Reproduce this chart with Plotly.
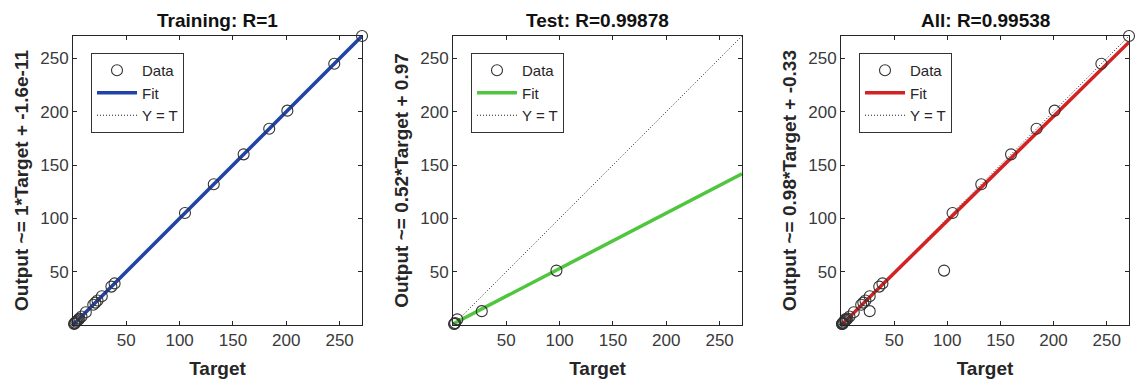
import plotly.graph_objects as go

# ---------------- data ----------------
train_target = [1, 1.5, 2, 3, 4, 5, 6, 8, 12, 19, 21, 23, 27, 36, 39, 105, 132, 160, 184, 201, 245, 271]
train_output = [1, 1.5, 2, 3, 4, 5, 6, 8, 12, 19, 21, 23, 27, 36, 39, 105, 132, 160, 184, 201, 245, 271]

test_target = [1, 1.5, 2, 4, 27, 97]
test_output = [1, 1.2, 1.8, 5.3, 13, 51]

all_target = train_target + test_target
all_output = train_output + test_output

panel_titles = ["Training: R=1", "Test: R=0.99878", "All: R=0.99538"]
ylabels = ["Output ~= 1*Target + -1.6e-11",
           "Output ~= 0.52*Target + 0.97",
           "Output ~= 0.98*Target + -0.33"]
fit_slope = [1.0, 0.52, 0.98]
fit_intercept = [-1.6e-11, 0.97, -0.33]
fit_colors = ["#2142a6", "#4fc63e", "#d42222"]
axis_range = [0, 271]
tick_vals = [50, 100, 150, 200, 250]

datasets = [(train_target, train_output), (test_target, test_output), (all_target, all_output)]

# ---------------- layout geometry ----------------
ML, MR, MT, MB = 73, 8, 36, 58
W, H = 1137, 383
plot_w = W - ML - MR
panel_px = [(73, 362), (453, 742), (841, 1129)]
legend_left_px = [91, 471, 859]

FONT = "Liberation Sans, Arial, Helvetica, sans-serif"

fig = go.Figure()
layout_update = {}
annotations = []

for i in range(3):
    xa = "x" if i == 0 else f"x{i+1}"
    ya = "y" if i == 0 else f"y{i+1}"
    leg = "legend" if i == 0 else f"legend{i+1}"
    t, o = datasets[i]
    lo, hi = axis_range
    # Y = T
    fig.add_trace(go.Scatter(x=[lo, hi], y=[lo, hi], mode="lines", name="Y = T",
                             line=dict(color="#222222", width=1, dash="1px,2px"),
                             xaxis=xa, yaxis=ya, legend=leg, legendrank=3))
    # Fit
    fx = [lo, hi]
    fy = [fit_slope[i] * v + fit_intercept[i] for v in fx]
    fig.add_trace(go.Scatter(x=fx, y=fy, mode="lines", name="Fit",
                             line=dict(color=fit_colors[i], width=3.5),
                             xaxis=xa, yaxis=ya, legend=leg, legendrank=2))
    # Data
    fig.add_trace(go.Scatter(x=t, y=o, mode="markers", name="Data",
                             marker=dict(symbol="circle-open", size=11,
                                         color="#333333", line=dict(width=1.1)),
                             xaxis=xa, yaxis=ya, legend=leg, legendrank=1,
                             cliponaxis=False))

    x0 = (panel_px[i][0] - ML) / plot_w
    x1 = (panel_px[i][1] - ML) / plot_w
    axis_common = dict(range=axis_range, tickvals=tick_vals, ticks="inside", ticklen=4,
                       tickcolor="#262626", showline=True, linecolor="#262626",
                       linewidth=1, mirror="ticks", showgrid=False, zeroline=False,
                       tickfont=dict(family=FONT, size=17, color="#3a3a3a"))
    xkey = "xaxis" if i == 0 else f"xaxis{i+1}"
    ykey = "yaxis" if i == 0 else f"yaxis{i+1}"
    layout_update[xkey] = dict(axis_common, domain=[x0, x1], anchor=ya,
                               title=dict(text="<b>Target</b>", standoff=12,
                                          font=dict(family=FONT, size=19, color="#262626")))
    layout_update[ykey] = dict(axis_common, domain=[0, 1], anchor=xa,
                               title=dict(text=f"<b>{ylabels[i]}</b>", standoff=6,
                                          font=dict(family=FONT, size=19, color="#262626")))
    layout_update[leg] = dict(x=(legend_left_px[i] - ML) / plot_w, y=1 - (53 - MT) / (H - MT - MB),
                              xanchor="left", yanchor="top", bgcolor="white",
                              bordercolor="#333333", borderwidth=1, itemwidth=40,
                              font=dict(family=FONT, size=15, color="#262626"),
                              tracegroupgap=0)
    annotations.append(dict(text=f"<b>{panel_titles[i]}</b>", x=(x0 + x1) / 2, y=1,
                            xref="paper", yref="paper", xanchor="center", yanchor="bottom",
                            yshift=3, showarrow=False,
                            font=dict(family=FONT, size=19, color="#111111")))

fig.update_layout(**layout_update)
fig.update_layout(width=W, height=H, margin=dict(l=ML, r=MR, t=MT, b=MB),
                  paper_bgcolor="white", plot_bgcolor="white",
                  annotations=annotations, font=dict(family=FONT))

fig.write_html("out.html")
